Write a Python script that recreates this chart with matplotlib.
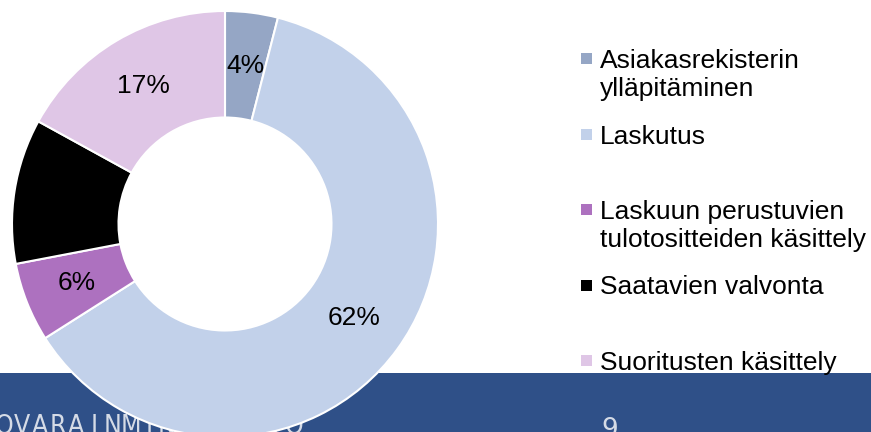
import matplotlib.pyplot as plt
from matplotlib.patches import Rectangle

# shares of the work (percent)
categories = ['Asiakasrekisterin\nylläpitäminen', 'Laskutus',
              'Laskuun perustuvien\ntulotositteiden käsittely',
              'Saatavien valvonta', 'Suoritusten käsittely']
shares = [4, 62, 6, 11, 17]
colors = ['#95A6C5', '#C2D1EA', '#AD71BF', '#000000', '#DFC6E6']
footer = 'OVARAINMINISTERIÖ'
page = '9'

plt.rcParams['font.family'] = ['Liberation Sans', 'DejaVu Sans']

W, H = 871, 432
fig = plt.figure(figsize=(W/100, H/100), dpi=100)

# blue footer banner
fig.add_artist(Rectangle((0, 0), 1, (H-373)/H, transform=fig.transFigure,
                         facecolor='#2F5088', edgecolor='none', zorder=0))
# spaced-out letters of the footer
for i, ch in enumerate(footer):
    fig.text((4 + 18.1*i)/W, 1-434/H, ch, color='#D5DBE6', fontsize=19,
             va='baseline', ha='center', family='DejaVu Sans',
             fontstretch='condensed', fontweight='light', zorder=0.5)
fig.text(601/W, 1-437/H, page, color='#D5DBE6', fontsize=19,
         va='baseline', ha='left', family='DejaVu Sans', zorder=0.5)

# donut
r = 213
ax = fig.add_axes([(225-r)/W, (H-224-r)/H, 2*r/W, 2*r/H])
ax.set_zorder(2)
wedges, texts, autotexts = ax.pie(
    shares, colors=colors, startangle=90, counterclock=False,
    autopct='%d%%', pctdistance=0.75,
    wedgeprops=dict(width=0.5, edgecolor='white', linewidth=1.5),
    textprops=dict(fontsize=19, color='black'))
ax.set_xlim(-1, 1)
ax.set_ylim(-1, 1)
ax.set_aspect('equal')
ax.axis('off')

# legend drawn by hand
for i, (lab, c) in enumerate(zip(categories, colors)):
    yc = 58.5 + i * 75.5
    fig.add_artist(Rectangle((581/W, 1-(yc+5.5)/H), 11/W, 11/H,
                             transform=fig.transFigure, facecolor=c,
                             edgecolor='none', zorder=3))
    fig.text(600/W, 1-(yc-9.5)/H, lab, fontsize=19, va='top', ha='left',
             linespacing=1.21, zorder=3)

fig.savefig('out.png', dpi=100)
